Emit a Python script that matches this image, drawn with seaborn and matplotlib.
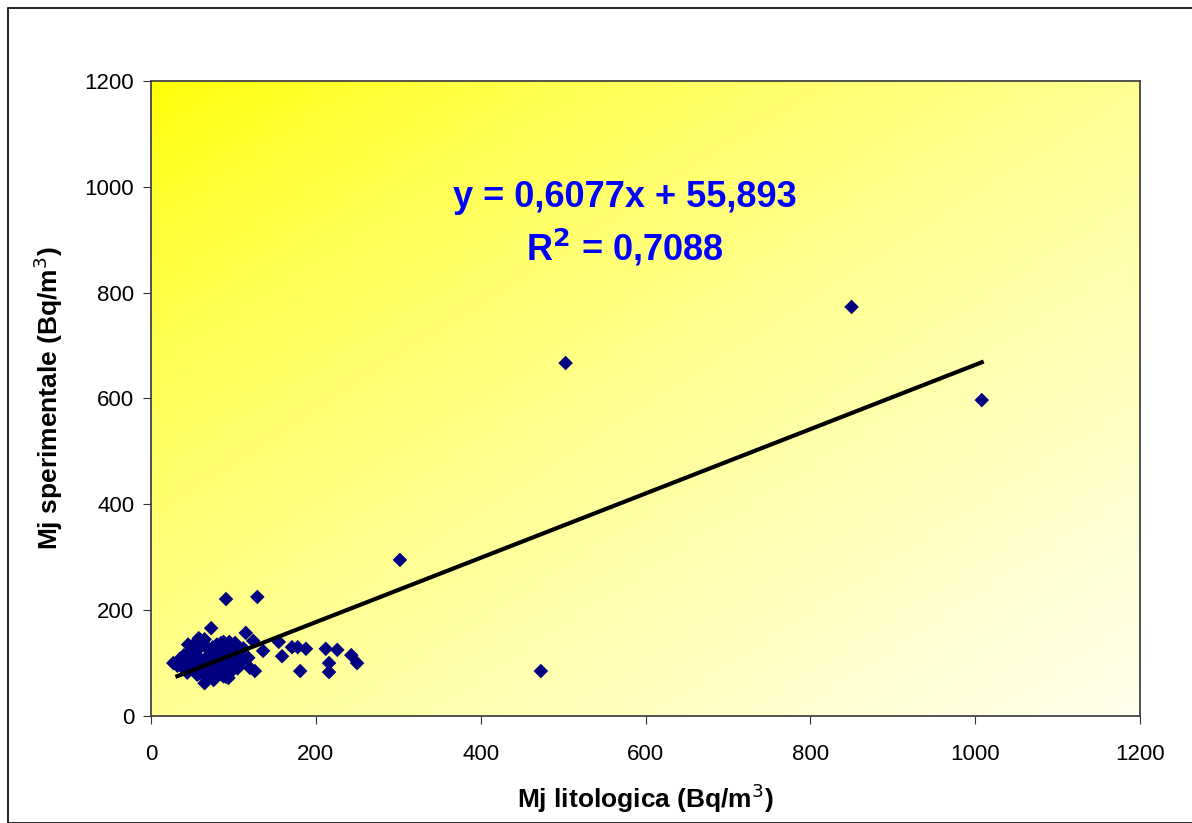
import matplotlib
matplotlib.use("Agg")
import matplotlib.pyplot as plt
import numpy as np
import pandas as pd
import seaborn as sns
from matplotlib.patches import Rectangle

# Mj litologica vs Mj sperimentale (Bq/m3)
mj_lito = [27, 32, 35, 38, 40, 42, 45, 47, 48, 50, 52, 53, 55, 56, 58, 60, 60, 62, 63, 65,
           66, 68, 70, 70, 72, 73, 75, 76, 78, 80, 80, 82, 84, 85, 86, 88, 90, 90, 92, 94,
           95, 96, 98, 100, 102, 104, 106, 108, 110, 45, 55, 65, 75, 85, 95, 100, 40, 50, 58, 68,
           78, 88, 105, 112, 35, 44, 58, 65,
           91, 129, 73, 115, 124, 136, 155, 159, 171, 178, 188, 181, 212, 226, 216, 216,
           243, 250, 118, 120, 126, 91, 302, 473, 503, 850, 1008]
mj_sper = [100, 95, 100, 92, 105, 88, 98, 110, 120, 95, 85, 102, 115, 78, 92, 130, 105, 88, 140, 98,
           75, 112, 95, 125, 82, 105, 118, 68, 100, 135, 88, 110, 95, 125, 78, 140, 105, 92, 118, 72,
           130, 100, 85, 112, 138, 95, 120, 100, 108, 135, 140, 145, 130, 138, 140, 128, 115, 125, 80, 70,
           72, 75, 90, 128, 108, 82, 147, 62,
           221, 225, 166, 157, 142, 123, 140, 113, 130, 130, 127, 85, 127, 125, 100, 83,
           115, 100, 110, 91, 85, 74, 295, 85, 667, 773, 597]

slope = 0.6077
intercept = 55.893

df = pd.DataFrame({"lito": mj_lito, "sper": mj_sper})

plt.rcParams["font.family"] = ["Liberation Sans", "DejaVu Sans"]
fig = plt.figure(figsize=(11.92, 8.23), dpi=100)
ax = fig.add_axes([0.1267, 0.130, 0.8297, 0.7716])

# yellow -> white gradient background (top-left to bottom-right)
gx, gy = np.meshgrid(np.linspace(0, 1, 200), np.linspace(0, 1, 200))
t = np.clip((gx + gy) / 2, 0, 1)
img = np.zeros((200, 200, 3))
img[..., 0] = 1.0
img[..., 1] = 1.0
img[..., 2] = 0.93 * t ** 0.7
ax.imshow(img, extent=[0, 1, 0, 1], transform=ax.transAxes, origin="upper",
          aspect="auto", zorder=0)

sns.scatterplot(data=df, x="lito", y="sper", marker="D", s=55, color="#000080",
                edgecolor="none", ax=ax, zorder=3)

xs = np.array([min(mj_lito) + 5, max(mj_lito)])
ax.plot(xs, slope * xs + intercept, color="black", lw=3, zorder=4)

ax.set_xlim(0, 1200)
ax.set_ylim(0, 1200)
ax.set_xticks(range(0, 1201, 200))
ax.set_yticks(range(0, 1201, 200))
ax.tick_params(labelsize=16, length=6, direction="out", color="#333333", pad=14)
ax.tick_params(axis="y", pad=6)
for s in ax.spines.values():
    s.set_color("#444444")
    s.set_linewidth(1.3)

ax.set_xlabel("Mj litologica (Bq/m$^3$)", fontsize=19, fontweight="bold", labelpad=12)
ax.set_ylabel("Mj sperimentale (Bq/m$^3$)", fontsize=19, fontweight="bold", labelpad=14)

ax.text(0.479, 0.817, "y = 0,6077x + 55,893", transform=ax.transAxes, ha="center",
        va="center", fontsize=26, fontweight="bold", color="#0000FF", zorder=5)
ax.text(0.479, 0.737, "R$^\\mathbf{2}$ = 0,7088", transform=ax.transAxes, ha="center",
        va="center", fontsize=26, fontweight="bold", color="#0000FF", zorder=5)

fig.patches.append(Rectangle((8 / 1192, 0), 1.2, 1 - 8 / 823, transform=fig.transFigure,
                             fill=False, edgecolor="black", lw=1.2))

fig.savefig("out.png", dpi=100)
